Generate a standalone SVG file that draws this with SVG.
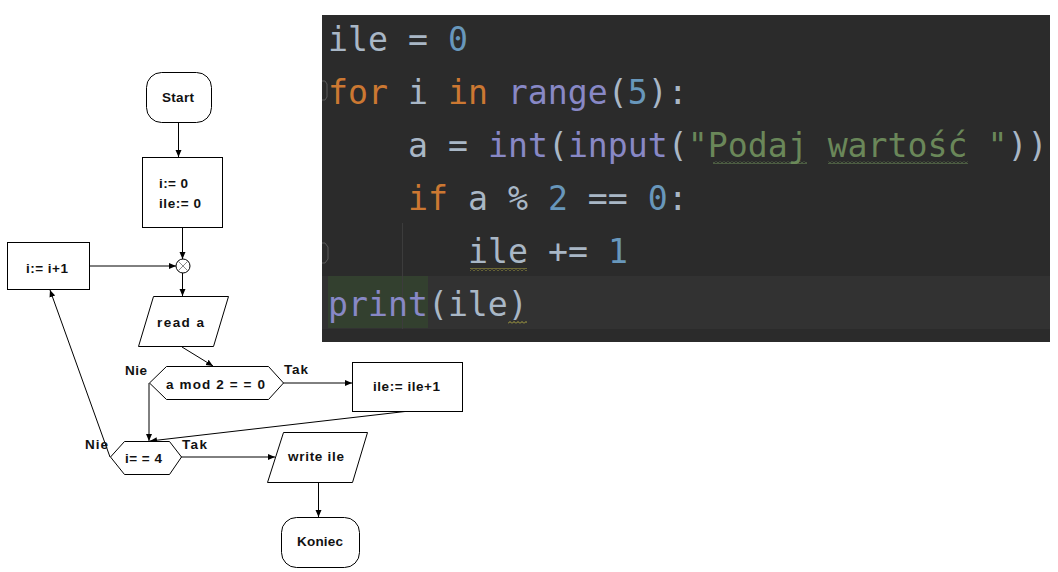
<svg xmlns="http://www.w3.org/2000/svg" width="1058" height="572" viewBox="0 0 1058 572">
<style>
.s{fill:#fff;stroke:#000;stroke-width:1}
.t{font-family:"Liberation Sans",Arial,sans-serif;font-weight:bold;font-size:13.5px;fill:#111}
.c{stroke:#000;stroke-width:1;fill:none}
.code{font-family:"DejaVu Sans Mono",monospace;font-size:33.2px;fill:#a9b7c6}
.k{fill:#cc7832}.n{fill:#6897bb}.f{fill:#8888c6}.str{fill:#6a8759}
</style>
<defs>
<marker id="ah" markerUnits="userSpaceOnUse" markerWidth="8" markerHeight="8" refX="7" refY="4" orient="auto"><path d="M0,1 L7,4 L0,7 z" fill="#000"/></marker>
<pattern id="wg" patternUnits="userSpaceOnUse" width="4" height="3" x="0" y="0"><path d="M0,2.5 L2,0.5 L4,2.5" stroke="#6e8f5a" stroke-width="1" fill="none"/></pattern>
<pattern id="wy" patternUnits="userSpaceOnUse" width="4" height="3" x="0" y="0"><path d="M0,2.5 L2,0.5 L4,2.5" stroke="#b0a842" stroke-width="1" fill="none"/></pattern>
</defs>
<rect width="1058" height="572" fill="#fff"/>

<g id="code-panel">
<rect x="322" y="15" width="728" height="327" fill="#2b2b2b"/>
<rect x="322" y="276" width="728" height="53" fill="#323232"/>
<rect x="328" y="276" width="100" height="52" fill="#33402f"/>
<line x1="402.5" y1="223" x2="402.5" y2="329" stroke="#3c3c3c"/>
<path d="M322,81 h3 l2,3 v13 l-2,3 h-3" stroke="#5a5a5a" fill="none"/>
<path d="M322,243 h3 l3,4 v12 l-3,4 h-3" stroke="#5a5a5a" fill="none"/>
<text class="code" xml:space="preserve" x="328" y="50.5">ile = <tspan class="n">0</tspan></text>
<text class="code" xml:space="preserve" x="328" y="103.5"><tspan class="k">for</tspan> i <tspan class="k">in</tspan> <tspan class="f">range</tspan>(<tspan class="n">5</tspan>):</text>
<text class="code" xml:space="preserve" x="408" y="156.5">a = <tspan class="f">int</tspan>(<tspan class="f">input</tspan>(<tspan class="str">"Podaj wartość "</tspan>))</text>
<text class="code" xml:space="preserve" x="408" y="209.5"><tspan class="k">if</tspan> a % <tspan class="n">2</tspan> == <tspan class="n">0</tspan>:</text>
<text class="code" xml:space="preserve" x="468" y="262.5">ile += <tspan class="n">1</tspan></text>
<text class="code" xml:space="preserve" x="328" y="315.5"><tspan class="f">print</tspan>(ile)</text>
<rect x="713" y="161" width="94" height="3" fill="url(#wg)"/>
<rect x="828" y="161" width="140" height="3" fill="url(#wg)"/>
<rect x="470" y="268" width="57" height="3" fill="url(#wy)"/>
<rect x="508" y="321" width="19" height="3" fill="url(#wy)"/>
</g>

<g id="connectors">
<line class="c" x1="178.5" y1="122" x2="178.5" y2="157" marker-end="url(#ah)"/>
<line class="c" x1="182.5" y1="227" x2="182.5" y2="259" marker-end="url(#ah)"/>
<line class="c" x1="89" y1="266" x2="176" y2="266" marker-end="url(#ah)"/>
<line class="c" x1="182.5" y1="273" x2="182.5" y2="296" marker-end="url(#ah)"/>
<line class="c" x1="182" y1="347" x2="213" y2="366" marker-end="url(#ah)"/>
<line class="c" x1="283" y1="383" x2="352" y2="383" marker-end="url(#ah)"/>
<line class="c" x1="149" y1="383" x2="149" y2="441" marker-end="url(#ah)"/>
<line class="c" x1="405" y1="411.5" x2="150" y2="441" marker-end="url(#ah)"/>
<line class="c" x1="181" y1="457" x2="275" y2="457" marker-end="url(#ah)"/>
<line class="c" x1="110" y1="457" x2="50" y2="290" marker-end="url(#ah)"/>
<line class="c" x1="318.5" y1="482" x2="318.5" y2="517" marker-end="url(#ah)"/>
<text class="t" x="125" y="375" textLength="22" lengthAdjust="spacing">Nie</text>
<text class="t" x="284" y="374" textLength="24" lengthAdjust="spacing">Tak</text>
<text class="t" x="85" y="449" textLength="23" lengthAdjust="spacing">Nie</text>
<text class="t" x="182" y="449" textLength="25" lengthAdjust="spacing">Tak</text>
</g>

<g id="start">
<rect class="s" x="146.5" y="72.5" width="65" height="50" rx="15"/>
<text class="t" x="162" y="102" textLength="32" lengthAdjust="spacing">Start</text>
</g>
<g id="init">
<rect class="s" x="142.5" y="157.5" width="80" height="70"/>
<text class="t" x="159" y="188" textLength="29" lengthAdjust="spacing">i:= 0</text>
<text class="t" x="159" y="208" textLength="42" lengthAdjust="spacing">ile:= 0</text>
</g>
<g id="junction">
<circle class="s" cx="183" cy="266" r="7"/>
<path d="M178,261 L188,271 M188,261 L178,271" stroke="#888" stroke-width="1"/>
</g>
<g id="increment">
<rect class="s" x="7.5" y="242.5" width="82" height="47"/>
<text class="t" x="26" y="273" textLength="42" lengthAdjust="spacing">i:= i+1</text>
</g>
<g id="read">
<polygon class="s" points="153.5,296.5 228.5,296.5 213.5,346.5 138.5,346.5"/>
<text class="t" x="157" y="327" textLength="47" lengthAdjust="spacing">read a</text>
</g>
<g id="cond-mod">
<polygon class="s" points="149.5,383 166.5,366.5 268.5,366.5 283.5,383 268.5,399.5 166.5,399.5"/>
<text class="t" x="166" y="389" textLength="99" lengthAdjust="spacing">a mod 2 = = 0</text>
</g>
<g id="ile-inc">
<rect class="s" x="352.5" y="362.5" width="110" height="49"/>
<text class="t" x="373" y="391" textLength="67" lengthAdjust="spacing">ile:= ile+1</text>
</g>
<g id="cond-i">
<polygon class="s" points="110.5,457 124.5,441.5 169.5,441.5 181.5,457 169.5,474.5 124.5,474.5"/>
<text class="t" x="125" y="463" textLength="37" lengthAdjust="spacing">i= = 4</text>
</g>
<g id="write">
<polygon class="s" points="283.5,432.5 367.5,432.5 352.5,482.5 267.5,482.5"/>
<text class="t" x="288" y="461" textLength="56" lengthAdjust="spacing">write ile</text>
</g>
<g id="end">
<rect class="s" x="281.5" y="517.5" width="78" height="50" rx="15"/>
<text class="t" x="297" y="546" textLength="46" lengthAdjust="spacing">Koniec</text>
</g>
</svg>
